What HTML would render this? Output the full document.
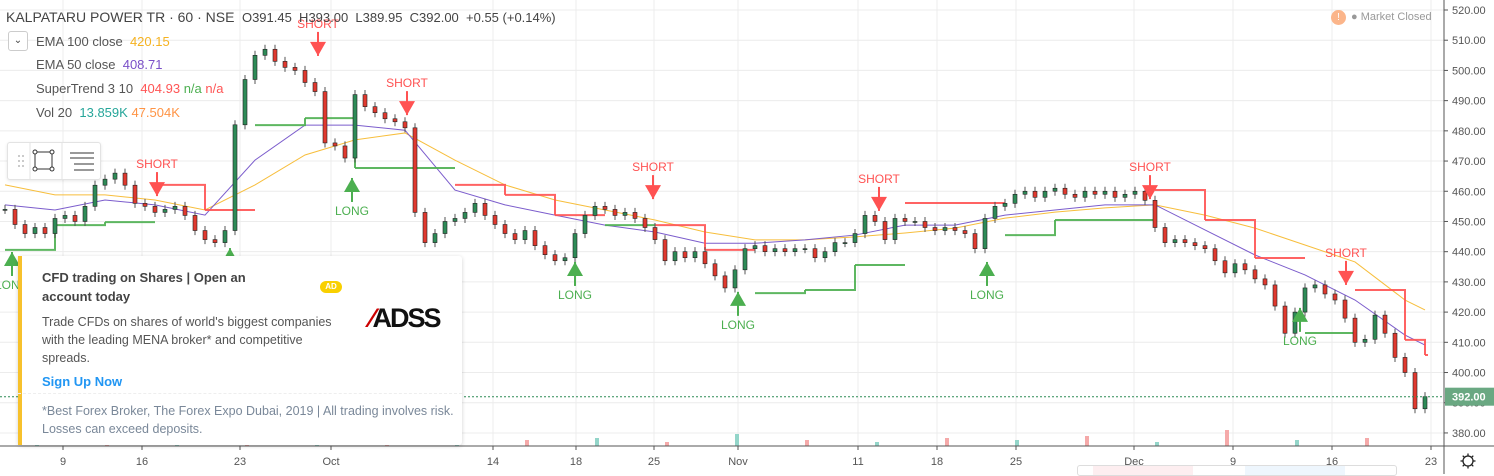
<!DOCTYPE html>
<html><head><meta charset="utf-8"><style>
body{margin:0;width:1494px;height:474px;overflow:hidden;background:#fff;font-family:"Liberation Sans",sans-serif;position:relative}
svg{position:absolute;left:0;top:0}
.lg{position:absolute;font-size:13px;color:#555;white-space:nowrap}
</style></head><body>
<svg id="c" width="1494" height="474"></svg>

<div class="lg" style="left:6px;top:9px;font-size:14px;color:#444">KALPATARU POWER TR · 60 · NSE <span style="font-size:13px;color:#444">&nbsp;O391.45 &nbsp;H393.00 &nbsp;L389.95 &nbsp;C392.00 &nbsp;+0.55 (+0.14%)</span></div>
<div style="position:absolute;left:8px;top:31px;width:18px;height:18px;border:1px solid #ccc;border-radius:3px;font-size:10px;text-align:center;line-height:18px;color:#444;background:#fff">⌄</div>
<div class="lg" style="left:36px;top:34px">EMA 100 close &nbsp;<span style="color:#f5b220">420.15</span></div>
<div class="lg" style="left:36px;top:57px">EMA 50 close &nbsp;<span style="color:#7a4fc8">408.71</span></div>
<div class="lg" style="left:36px;top:81px">SuperTrend 3 10 &nbsp;<span style="color:#f55">404.93 <span style="color:#4caf50">n/a</span> n/a</span></div>
<div class="lg" style="left:36px;top:105px">Vol 20 &nbsp;<span style="color:#26a69a">13.859K</span> <span style="color:#ff9445">47.504K</span></div>

<div style="position:absolute;left:7px;top:142px;width:92px;height:36px;background:#fff;border:1px solid #e3e3e3;border-radius:3px;box-shadow:0 1px 3px rgba(0,0,0,.1)">
 <svg width="92" height="36" style="position:absolute;left:0;top:0">
  <g fill="#bbb"><circle cx="11" cy="13" r="1"/><circle cx="15" cy="13" r="1"/><circle cx="11" cy="18" r="1"/><circle cx="15" cy="18" r="1"/><circle cx="11" cy="23" r="1"/><circle cx="15" cy="23" r="1"/></g>
  <line x1="22" y1="0" x2="22" y2="36" stroke="#e3e3e3"/><line x1="54" y1="0" x2="54" y2="36" stroke="#e3e3e3"/>
  <rect x="27" y="9" width="17" height="17" fill="none" stroke="#333"/>
  <g fill="#fff" stroke="#333"><circle cx="27" cy="9" r="2"/><circle cx="44" cy="9" r="2"/><circle cx="27" cy="26" r="2"/><circle cx="44" cy="26" r="2"/></g>
  <g stroke="#333"><line x1="62" y1="10" x2="86" y2="10"/><line x1="62" y1="15" x2="86" y2="15"/><line x1="66" y1="21" x2="86" y2="21"/><line x1="66" y1="27" x2="86" y2="27"/></g>
 </svg>
</div>

<div style="position:absolute;left:18px;top:256px;width:444px;height:189px;background:#fff;box-shadow:0 1px 4px rgba(0,0,0,.18);border-radius:3px">
 <div style="position:absolute;left:0;top:0;width:4px;height:189px;background:#f7c12c"></div>
 <div style="position:absolute;left:24px;top:12px;font-size:13px;font-weight:bold;color:#444;line-height:19px;width:240px">CFD trading on Shares | Open an account today</div>
 <div style="position:absolute;left:302px;top:25px;width:22px;height:12px;border-radius:6px;background:#f9d000;color:#fff;font-size:8px;text-align:center;line-height:12px;font-weight:bold">AD</div>
 <div style="position:absolute;left:24px;top:57px;font-size:12.5px;color:#555;line-height:18px;width:305px">Trade CFDs on shares of world's biggest companies with the leading MENA broker* and competitive spreads.</div>
 <div style="position:absolute;left:352px;top:47px;font-size:27px;font-weight:bold;color:#111;letter-spacing:-2px"><span style="color:#c00">⁄</span>ADSS</div>
 <div style="position:absolute;left:24px;top:118px;font-size:13px;font-weight:bold;color:#2196f3">Sign Up Now</div>
 <div style="position:absolute;left:0;top:137px;width:444px;border-top:1px dashed #eee"></div>
 <div style="position:absolute;left:24px;top:146px;font-size:12.5px;color:#7a8899;line-height:18px;width:412px">*Best Forex Broker, The Forex Expo Dubai, 2019 | All trading involves risk. Losses can exceed deposits.</div>
</div>

<div style="position:absolute;left:1331px;top:10px;width:15px;height:15px;border-radius:50%;background:#fbb58a;color:#fff;font-size:10px;text-align:center;line-height:15px">!</div>
<div class="lg" style="left:1351px;top:11px;font-size:11px;color:#999">● Market Closed</div>

<div style="position:absolute;left:1077px;top:465px;width:318px;height:9px;background:#fff;border:1px solid #ddd;border-radius:3px">
 <div style="position:absolute;left:15px;top:0;width:100px;height:9px;background:#fdeef0"></div>
 <div style="position:absolute;left:167px;top:0;width:100px;height:9px;background:#eef6fd"></div>
</div>

<script>
const closes=[454,449,446,448,446,451,452,450,455,462,464,466,462,456,455,453,454,455,452,447,444,443,447,482,497,505,507,503,501,500,496,493,476,475,471,492,488,486,484,483,481,453,443,446,450,451,453,456,452,449,446,444,447,442,439,437,438,446,452,455,454,452,453,451,448,444,437,440,438,440,436,432,428,434,441,442,440,441,440,441,441,438,440,443,443,446,452,450,444,451,450,450,448,447,448,447,446,441,451,455,456,459,460,458,460,461,459,458,460,459,460,458,459,460,457,448,443,444,443,442,441,437,433,436,434,431,429,422,413,420,428,429,426,424,418,410,411,419,413,405,400,388,392];
const ema100=[462.1,458.8,458.8,457.1,453.8,462.1,472,477,479.3,470.3,462.1,457.1,453.8,450.5,446.5,443.9,443.9,444.9,446.2,447.8,451.1,453.1,454.5,455.5,452.1,447.8,442.2,436.6,424,420.7];
const ema50=[455.5,453.8,457.1,455.5,452.1,470.3,481.9,481.9,480.2,460.4,455.5,452.1,448.8,446.5,442.8,442.8,443.9,445.5,448.8,448.8,452.1,453.8,455.5,455.5,447.2,438.9,432.3,424,412.4,409.1];
const stLevel=[440.6,448.8,449.8,462.1,453.8,481.9,484.2,467.7,467.7,462.1,458.8,452.1,448.8,448.8,440.6,426.3,427.3,435.6,456.1,456.1,445.5,450.5,450.5,460.4,450.5,437.9,413.1,427.3,410.8,405.8];
const stDir=["L","L","L","S","S","L","L","L","L","S","S","S","L","S","S","L","L","L","S","S","L","L","L","S","S","S","L","S","S","S"];
const sigType=["LONG","SHORT","LONG","SHORT","LONG","SHORT","LONG","SHORT","LONG","SHORT","LONG","SHORT","LONG","SHORT"];
const sigBar=[0.7,15.2,22.5,31.3,34.7,40.2,57,64.8,73.3,87.4,98.2,114.5,129.5,134.1];
const sigPrice=[439.9,458.4,441.2,504.8,464.4,485.2,436.6,457.4,426.7,453.5,436.6,457.4,421.4,429.0];
const priceTicks=[520,510,500,490,480,470,460,450,440,430,420,410,400,390,380];
const dateLabels=["9","16","23","Oct","14","18","25","Nov","11","18","25","Dec","9","16","23"];
const dateBars=[5.8,13.7,23.5,32.6,48.8,57.1,64.9,73.3,85.3,93.2,101.1,112.9,122.8,132.7,142.6];
const volumes=[3,2,4,2,3,5,2,3,4,2,6,3,2,4,3,5,2,8,3,4];

const svg=document.getElementById('c');const NS='http://www.w3.org/2000/svg';
const W0=5,STEP=10,PAX=1444,AXY=446;
const X=i=>W0+i*STEP;
const Y=p=>10+(520-p)*3.021;
const SX=k=>X(Math.min(k*5,closes.length-1));
function el(t,a,parent){const e=document.createElementNS(NS,t);for(const k in a)e.setAttribute(k,a[k]);(parent||svg).appendChild(e);return e;}
priceTicks.forEach(p=>{const l=el('line',{x1:0,x2:PAX,y1:Y(p),y2:Y(p),stroke:'#ececec'});


const t=el('text',{x:1452,y:Y(p)+4,'font-size':11,fill:'#555','font-family':'Liberation Sans'});t.textContent=p.toFixed(2);


el('line',{x1:PAX,x2:PAX+4,y1:Y(p),y2:Y(p),stroke:'#555'});});
dateLabels.forEach((d,i)=>{const x=X(dateBars[i]);el('line',{x1:x,x2:x,y1:0,y2:AXY,stroke:'#ececec'});
el('line',{x1:x,x2:x,y1:AXY,y2:AXY+4,stroke:'#555'});
const t=el('text',{x:x,y:465,'font-size':11,fill:'#555','text-anchor':'middle','font-family':'Liberation Sans'});t.textContent=d;

});
volumes.forEach((v,i)=>{const x=X(i*7+3);const r=el('rect',{x:x,y:AXY-v*2,width:4,height:v*2,fill:i%2?'#f5a9a9':'#93d5c9'});

});
function line(arr,color,name){const d=arr.map((p,k)=>(k?'L':'M')+SX(k)+' '+Y(p)).join(' ');const e=el('path',{d:d,fill:'none',stroke:color,'stroke-width':1});

}
line(ema100,'#f7be3c','ema100-line');line(ema50,'#7b5ccc','ema50-line');
for(let k=0;k<stLevel.length;k++){const x1=SX(k),x2=k+1<stLevel.length?SX(k+1):SX(k)+3;const c=stDir[k]=='L'?'#4caf50':'#ff5252';
let d='M'+x1+' '+Y(stLevel[k])+' L'+x2+' '+Y(stLevel[k]);
if(k+1<stLevel.length&&stDir[k+1]==stDir[k])d+=' L'+x2+' '+Y(stLevel[k+1]);
const e=el('path',{d:d,fill:'none',stroke:c,'stroke-width':2,opacity:.9});

}
closes.forEach((c,i)=>{const o=i?closes[i-1]:c;const up=c>=o;const x=X(i);
const hi=Math.max(o,c)+1.5,lo=Math.min(o,c)-1.5;
el('line',{x1:x,x2:x,y1:Y(hi),y2:Y(lo),stroke:'#555'});
const r=el('rect',{x:x-2,y:Y(Math.max(o,c)),width:4,height:Math.max(1,Math.abs(Y(o)-Y(c))),fill:up?'#2e8b57':'#e0392f',stroke:'#222','stroke-width':.6});

});
sigType.forEach((s,i)=>{const x=X(sigBar[i]);const y=Y(sigPrice[i]);const g=el('g',{});


if(s=='SHORT'){el('line',{x1:x,x2:x,y1:y-24,y2:y,stroke:'#ff5252','stroke-width':2},g);el('path',{d:`M${x-8} ${y-14} L${x+8} ${y-14} L${x} ${y}Z`,fill:'#ff5252'},g);
const t=el('text',{x:x,y:y-28,'font-size':12,fill:'#ff5252','text-anchor':'middle','font-family':'Liberation Sans'},g);t.textContent='SHORT';}
else{el('line',{x1:x,x2:x,y1:y,y2:y+24,stroke:'#4caf50','stroke-width':2},g);el('path',{d:`M${x-8} ${y+14} L${x+8} ${y+14} L${x} ${y}Z`,fill:'#4caf50'},g);
const t=el('text',{x:x,y:y+37,'font-size':12,fill:'#4caf50','text-anchor':'middle','font-family':'Liberation Sans'},g);t.textContent='LONG';}});
const lp=closes[closes.length-1];
el('line',{x1:0,x2:PAX,y1:Y(lp),y2:Y(lp),stroke:'#2e8b57','stroke-dasharray':'2,2'});
const lb=el('rect',{x:PAX+1,y:Y(lp)-9,width:50,height:18,fill:'#6aa882'});


const lt=el('text',{x:1452,y:Y(lp)+4,'font-size':11,fill:'#fff','font-family':'Liberation Sans','font-weight':'bold'});lt.textContent=lp.toFixed(2);
el('line',{x1:PAX,x2:PAX,y1:0,y2:474,stroke:'#555'});
el('line',{x1:0,x2:1494,y1:AXY,y2:AXY,stroke:'#555'});
const gear=el('g',{});


el('circle',{cx:1468,cy:461,r:5,fill:'none',stroke:'#222','stroke-width':1.3},gear);
for(let a=0;a<8;a++){const r=a*Math.PI/4;el('line',{x1:1468+5*Math.cos(r),y1:461+5*Math.sin(r),x2:1468+7.5*Math.cos(r),y2:461+7.5*Math.sin(r),stroke:'#222','stroke-width':1.3},gear);}
</script>
</body></html>
